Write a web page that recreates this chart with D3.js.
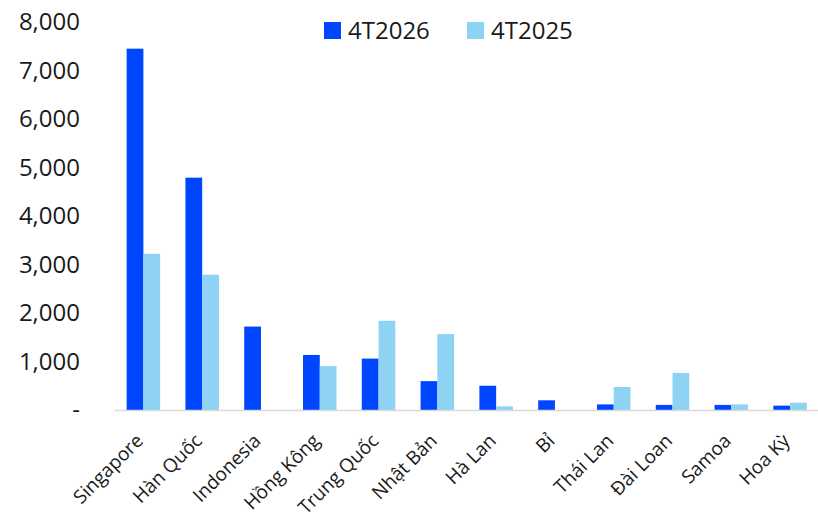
<!DOCTYPE html>
<html>
<head>
<meta charset="utf-8">
<script src="https://cdn.jsdelivr.net/npm/d3@7"></script>
<style>
  html, body { margin: 0; padding: 0; background: #fff; }
  svg { display: block; font-family: "Open Sans", "Noto Sans", sans-serif; }
</style>
</head>
<body>
<svg id="chart" width="818" height="518"></svg>
<script>
// Markets, ordered as shown
const categories = ["Singapore", "Hàn Quốc", "Indonesia", "Hồng Kông", "Trung Quốc", "Nhật Bản",
                    "Hà Lan", "Bỉ", "Thái Lan", "Đài Loan", "Samoa", "Hoa Kỳ"];
const seriesNames = ["4T2026", "4T2025"];
const values2026 = [7450, 4790, 1720, 1135, 1060, 595, 500, 200, 115, 105, 105, 90];
const values2025 = [3220, 2790, 0, 905, 1840, 1565, 75, 0, 475, 765, 115, 150];
const yTicks = [0, 1000, 2000, 3000, 4000, 5000, 6000, 7000, 8000];
const colors = ["#0045FF", "#8ED3F4"];

const svg = d3.select("#chart");

const x = d3.scaleBand()
  .domain(categories)
  .range([114, 819.5])
  .paddingInner(0.43)
  .paddingOuter(0.215);

const xSub = d3.scaleBand()
  .domain(seriesNames)
  .range([0, x.bandwidth()]);

const y = d3.scaleLinear()
  .domain([0, 8000])
  .range([410, 22]);

// Y axis labels (no line), zero shown as a dash
const fmt = d3.format(",");
const yAxis = d3.axisLeft(y)
  .tickValues(yTicks)
  .tickSize(0)
  .tickPadding(0)
  .tickFormat(d => d === 0 ? "-" : fmt(d));

svg.append("g")
  .attr("transform", "translate(80,0)")
  .call(yAxis)
  .call(g => g.select(".domain").remove())
  .call(g => g.selectAll("text")
    .attr("font-family", "'Open Sans', 'Noto Sans', sans-serif")
    .attr("font-size", 24)
    .attr("fill", "#1a1a1a"));

// Bars
const rows = categories.map((c, i) => ({ cat: c, vals: [values2026[i], values2025[i]] }));
const groups = svg.append("g")
  .selectAll("g")
  .data(rows)
  .join("g")
  .attr("transform", d => `translate(${x(d.cat)},0)`);

groups.selectAll("rect")
  .data(d => d.vals.map((v, k) => ({ key: seriesNames[k], v, k })))
  .join("rect")
  .attr("x", d => xSub(d.key))
  .attr("width", xSub.bandwidth())
  .attr("y", d => y(d.v))
  .attr("height", d => y(0) - y(d.v))
  .attr("fill", d => colors[d.k]);

// Category axis line and rotated labels
const xAxis = d3.axisBottom(x).tickSize(0).tickPadding(0);
svg.append("g")
  .attr("transform", "translate(0,410)")
  .call(xAxis)
  .call(g => g.select(".domain")
    .attr("stroke", "#d9d9d9")
    .attr("stroke-width", 1.5))
  .call(g => g.selectAll("text")
    .attr("font-family", "'Open Sans', 'Noto Sans', sans-serif")
    .attr("font-size", 19)
    .attr("fill", "#1a1a1a")
    .attr("text-anchor", "end")
    .attr("dy", 0)
    .attr("y", 0)
    .attr("transform", "translate(1,32) rotate(-45)"));

// Legend
const legend = svg.append("g")
  .selectAll("g")
  .data(seriesNames)
  .join("g")
  .attr("transform", (d, i) => `translate(${324 + i * 143},22)`);

legend.append("rect")
  .attr("width", 17)
  .attr("height", 17)
  .attr("fill", (d, i) => colors[i]);

legend.append("text")
  .attr("x", 24)
  .attr("y", 8.5)
  .attr("dy", "0.35em")
  .attr("font-size", 24)
  .attr("fill", "#1a1a1a")
  .text(d => d);
</script>
</body>
</html>
